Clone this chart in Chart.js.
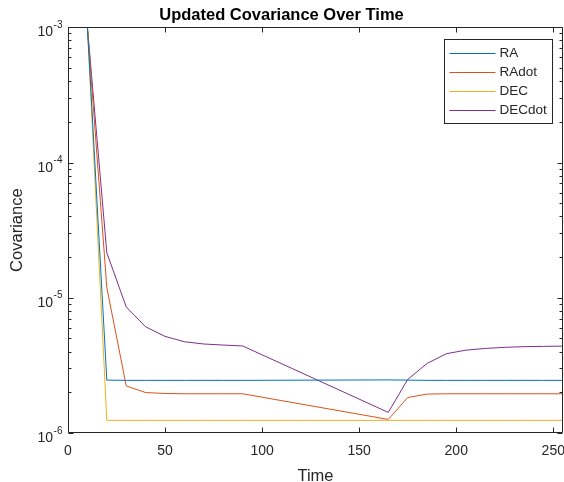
<!DOCTYPE html>
<html>
<head>
<meta charset="utf-8">
<script src="https://cdn.jsdelivr.net/npm/chart.js@4"></script>
<style>
html,body{margin:0;padding:0;background:#fff;}
canvas{display:block;}
</style>
</head>
<body>
<canvas id="c" width="564" height="482"></canvas>
<script>
// ---- data ----
const times  = [10, 20, 30, 40, 50, 60, 70, 80, 90, 165, 175, 185, 195, 205, 215, 225, 235, 245, 255];
const RA     = [1.0e-3, 2.46e-6, 2.45e-6, 2.45e-6, 2.45e-6, 2.45e-6, 2.45e-6, 2.45e-6, 2.45e-6, 2.47e-6, 2.46e-6, 2.45e-6, 2.45e-6, 2.45e-6, 2.45e-6, 2.45e-6, 2.45e-6, 2.45e-6, 2.45e-6];
const RAdot  = [1.0e-3, 1.19e-5, 2.23e-6, 1.99e-6, 1.96e-6, 1.95e-6, 1.95e-6, 1.95e-6, 1.95e-6, 1.26e-6, 1.83e-6, 1.94e-6, 1.95e-6, 1.95e-6, 1.95e-6, 1.95e-6, 1.95e-6, 1.95e-6, 1.95e-6];
const DEC    = [1.0e-3, 1.24e-6, 1.24e-6, 1.24e-6, 1.24e-6, 1.24e-6, 1.24e-6, 1.24e-6, 1.24e-6, 1.24e-6, 1.24e-6, 1.24e-6, 1.24e-6, 1.24e-6, 1.24e-6, 1.24e-6, 1.24e-6, 1.24e-6, 1.24e-6];
const DECdot = [1.0e-3, 2.15e-5, 8.55e-6, 6.10e-6, 5.18e-6, 4.73e-6, 4.55e-6, 4.47e-6, 4.40e-6, 1.42e-6, 2.49e-6, 3.27e-6, 3.86e-6, 4.10e-6, 4.22e-6, 4.30e-6, 4.35e-6, 4.37e-6, 4.39e-6];
const seriesNames = ['RA', 'RAdot', 'DEC', 'DECdot'];
const xTickValues = [0, 50, 100, 150, 200, 250];
const yTickValues = [1e-6, 1e-5, 1e-4, 1e-3];
const yTickBase = '10';
const yTickExponents = ['-6', '-5', '-4', '-3'];
const yMinorFactors = [2, 3, 4, 5, 6, 7, 8, 9];

const colors = ['#0072BD', '#D95319', '#EDB120', '#7E2F8E'];
const AX = '#262626';
const FONT = "'Liberation Sans', Arial, Helvetica, sans-serif";

const seriesData = [RA, RAdot, DEC, DECdot];
const datasets = seriesData.map((arr, i) => ({
  label: seriesNames[i],
  data: arr.map((v, k) => ({x: times[k], y: v})),
  borderColor: colors[i],
  backgroundColor: colors[i],
  borderWidth: 1,
  pointRadius: 0,
  tension: 0,
  fill: false
}));

const bgPlugin = {
  id: 'bg',
  beforeDraw(chart) {
    const ctx = chart.ctx;
    ctx.save();
    ctx.fillStyle = '#fff';
    ctx.fillRect(0, 0, chart.width, chart.height);
    ctx.restore();
  }
};

// y tick labels as 10 with a raised exponent, placed by the log scale
const yLabelPlugin = {
  id: 'yExpLabels',
  afterDraw(chart) {
    const ctx = chart.ctx;
    const ys = chart.scales.y;
    const rightX = ys.right - 6;
    ctx.save();
    ctx.fillStyle = AX;
    ctx.textBaseline = 'alphabetic';
    ctx.textAlign = 'left';
    yTickValues.forEach((v, i) => {
      const py = ys.getPixelForValue(v);
      ctx.font = '10px ' + FONT;
      const ew = ctx.measureText(yTickExponents[i]).width;
      ctx.font = '14px ' + FONT;
      const bw = ctx.measureText(yTickBase).width;
      const x0 = rightX - ew - bw;
      ctx.fillText(yTickBase, x0, py + 9);
      ctx.font = '10px ' + FONT;
      ctx.fillText(yTickExponents[i], x0 + bw + 0.5, py + 0.5);
    });
    ctx.restore();
  }
};

const boxPlugin = {
  id: 'boxTicks',
  afterDatasetsDraw(chart) {
    const ctx = chart.ctx;
    const a = chart.chartArea;
    const xs = chart.scales.x, ys = chart.scales.y;
    const L = Math.round(a.left) + 0.5, R = Math.round(a.right) - 0.5;
    const T = Math.round(a.top) + 0.5, B = Math.round(a.bottom) - 0.5;
    ctx.save();
    ctx.strokeStyle = AX;
    ctx.lineWidth = 1;
    ctx.beginPath();
    xTickValues.forEach(v => {
      const px = Math.round(xs.getPixelForValue(v)) + 0.5;
      ctx.moveTo(px, B); ctx.lineTo(px, B - 5);
      ctx.moveTo(px, T); ctx.lineTo(px, T + 5);
    });
    yTickValues.forEach(v => {
      const py = Math.round(ys.getPixelForValue(v)) + 0.5;
      ctx.moveTo(L, py); ctx.lineTo(L + 5, py);
      ctx.moveTo(R, py); ctx.lineTo(R - 5, py);
    });
    yTickValues.slice(0, -1).forEach(d => {
      yMinorFactors.forEach(m => {
        const py = Math.round(ys.getPixelForValue(d * m)) + 0.5;
        ctx.moveTo(L, py); ctx.lineTo(L + 3, py);
        ctx.moveTo(R, py); ctx.lineTo(R - 3, py);
      });
    });
    ctx.stroke();
    ctx.beginPath();
    ctx.rect(L, T, R - L, B - T);
    ctx.stroke();
    ctx.restore();
  }
};

const legendPlugin = {
  id: 'boxLegend',
  afterDraw(chart) {
    const ctx = chart.ctx;
    const a = chart.chartArea;
    const w = 108, h = 84;
    const x0 = Math.round(a.right - 11 - w) + 0.5;
    const y0 = Math.round(a.top + 12) + 0.5;
    ctx.save();
    ctx.fillStyle = '#fff';
    ctx.fillRect(x0, y0, w, h);
    ctx.strokeStyle = AX;
    ctx.lineWidth = 1;
    ctx.strokeRect(x0, y0, w, h);
    ctx.font = '13.5px ' + FONT;
    ctx.textBaseline = 'middle';
    ctx.textAlign = 'left';
    chart.data.datasets.forEach((ds, i) => {
      const yy = Math.round(y0 + 13 + i * 19) + 0.5;
      ctx.strokeStyle = ds.borderColor;
      ctx.beginPath();
      ctx.moveTo(x0 + 5, yy);
      ctx.lineTo(x0 + 51, yy);
      ctx.stroke();
      ctx.fillStyle = AX;
      ctx.fillText(ds.label, x0 + 55, yy);
    });
    ctx.restore();
  }
};

new Chart(document.getElementById('c'), {
  type: 'line',
  data: {datasets},
  options: {
    responsive: false,
    devicePixelRatio: 1,
    animation: false,
    layout: {padding: {left: 0, right: 1, top: 0, bottom: 0}},
    plugins: {
      legend: {display: false},
      tooltip: {enabled: false},
      title: {
        display: true,
        text: 'Updated Covariance Over Time',
        color: '#000',
        font: {family: FONT, size: 16.5, weight: 'bold', lineHeight: 1.2},
        padding: {top: 6, bottom: 1.5}
      }
    },
    scales: {
      x: {
        type: 'linear',
        min: 0,
        max: 255,
        grid: {display: false, drawTicks: false},
        border: {display: false},
        afterBuildTicks(scale) {
          scale.ticks = xTickValues.map(v => ({value: v}));
        },
        afterFit(scale) {
          scale.height = 49;
          scale.paddingLeft = 0;
          scale.paddingRight = 0;
        },
        ticks: {
          color: AX,
          padding: 10,
          maxRotation: 0,
          autoSkip: false,
          font: {family: FONT, size: 14},
          callback: v => String(v)
        },
        title: {
          display: true,
          text: 'Time',
          color: AX,
          font: {family: FONT, size: 16.5, lineHeight: 1.2},
          padding: {top: 0, bottom: -4}
        }
      },
      y: {
        type: 'logarithmic',
        min: 1e-6,
        max: 1e-3,
        grid: {display: false, drawTicks: false},
        border: {display: false},
        afterBuildTicks(scale) {
          scale.ticks = yTickValues.map(v => ({value: v, major: true}));
        },
        afterFit(scale) {
          scale.width = 68;
          scale.paddingTop = 0;
          scale.paddingBottom = 0;
        },
        ticks: {display: false},
        title: {
          display: true,
          text: 'Covariance',
          color: AX,
          font: {family: FONT, size: 16.5, lineHeight: 1.2},
          padding: {top: 8, bottom: 0}
        }
      }
    }
  },
  plugins: [bgPlugin, yLabelPlugin, boxPlugin, legendPlugin]
});
</script>
</body>
</html>
